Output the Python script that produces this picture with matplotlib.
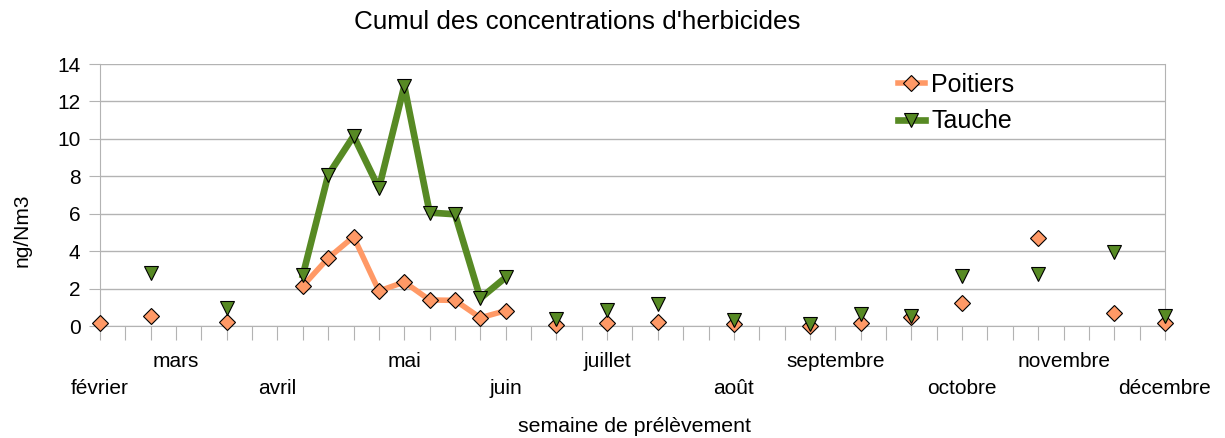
import numpy as np
import matplotlib.pyplot as plt

plt.rcParams['font.family'] = ['Liberation Sans', 'DejaVu Sans']

# 43 semaines de prélèvement (février -> décembre)
n_semaines = 43
mois = ["février", "mars", "avril", "mai", "juin", "juillet",
        "août", "septembre", "octobre", "novembre", "décembre"]
mois_idx = [0, 3, 7, 12, 16, 20, 25, 29, 34, 38, 42]

poitiers_idx = [0, 2, 5, 8, 9, 10, 11, 12, 13, 14, 15, 16, 18, 20, 22, 25, 28, 30, 32, 34, 37, 40, 42]
poitiers_val = [0.14, 0.55, 0.23, 2.14, 3.63, 4.77, 1.87, 2.35, 1.39, 1.37, 0.44, 0.82,
                0.05, 0.14, 0.19, 0.09, 0.0, 0.14, 0.46, 1.21, 4.7, 0.68, 0.18]

tauche_idx = [2, 5, 8, 9, 10, 11, 12, 13, 14, 15, 16, 18, 20, 22, 25, 28, 30, 32, 34, 37, 40, 42]
tauche_val = [2.85, 0.94, 2.72, 8.07, 10.15, 7.36, 12.83, 6.06, 5.97, 1.48, 2.6,
              0.36, 0.85, 1.16, 0.3, 0.1, 0.62, 0.53, 2.67, 2.76, 3.95, 0.53]

x = np.arange(n_semaines)
poitiers = np.full(n_semaines, np.nan)
poitiers[poitiers_idx] = poitiers_val
tauche = np.full(n_semaines, np.nan)
tauche[tauche_idx] = tauche_val

gris = "#b3b3b3"
orange = "#ff9966"
vert = "#578a24"

fig = plt.figure(figsize=(12.25, 4.38), dpi=100)
ax = fig.add_axes([100/1225, 1 - 326/438, 1065/1225, 262/438])

ax.plot(x, poitiers, "-D", color=orange, lw=4, ms=8, mfc=orange, mec="black", mew=0.8,
        label="Poitiers", zorder=3, clip_on=False)
ax.plot(x, tauche, "-v", color=vert, lw=4.8, ms=10, mfc=vert, mec="black", mew=0.8,
        label="Tauche", zorder=3, clip_on=False)

ax.set_xlim(0, n_semaines - 1)
ax.set_ylim(0, 14)
ax.set_yticks(range(0, 15, 2))
ax.set_xticks(x)
ax.set_xticklabels([])
ax.tick_params(axis="both", direction="out", color=gris, labelsize=15)
ax.tick_params(axis="x", length=10)
ax.tick_params(axis="y", length=8, pad=6)
ax.grid(axis="y", color=gris, lw=1)
ax.set_axisbelow(True)
for s in ax.spines.values():
    s.set_color(gris)
ax.spines["top"].set_visible(False)

# étiquettes des mois, décalées sur deux lignes
for k, (m, i) in enumerate(zip(mois, mois_idx)):
    yy = -0.24 if k % 2 == 0 else -0.137
    ax.text(i, yy, m, transform=ax.get_xaxis_transform(), ha="center", va="center",
            fontsize=15)

fig.text(577/1225, 1 - 22/438, "Cumul des concentrations d'herbicides",
         ha="center", va="center", fontsize=18.7)
fig.text(634/1225, 1 - 427/438, "semaine de prélèvement", ha="center", va="center",
         fontsize=15.3)
fig.text(22/1225, 1 - 230/438, "ng/Nm3", rotation=90, ha="center", va="center",
         fontsize=15)

ax.legend(loc="upper left", bbox_to_anchor=(0.749, 0.966), frameon=False, fontsize=18,
          handlelength=1.1, handletextpad=0.25, labelspacing=0.5, borderpad=0,
          borderaxespad=0)

fig.savefig("out.png", dpi=100)
